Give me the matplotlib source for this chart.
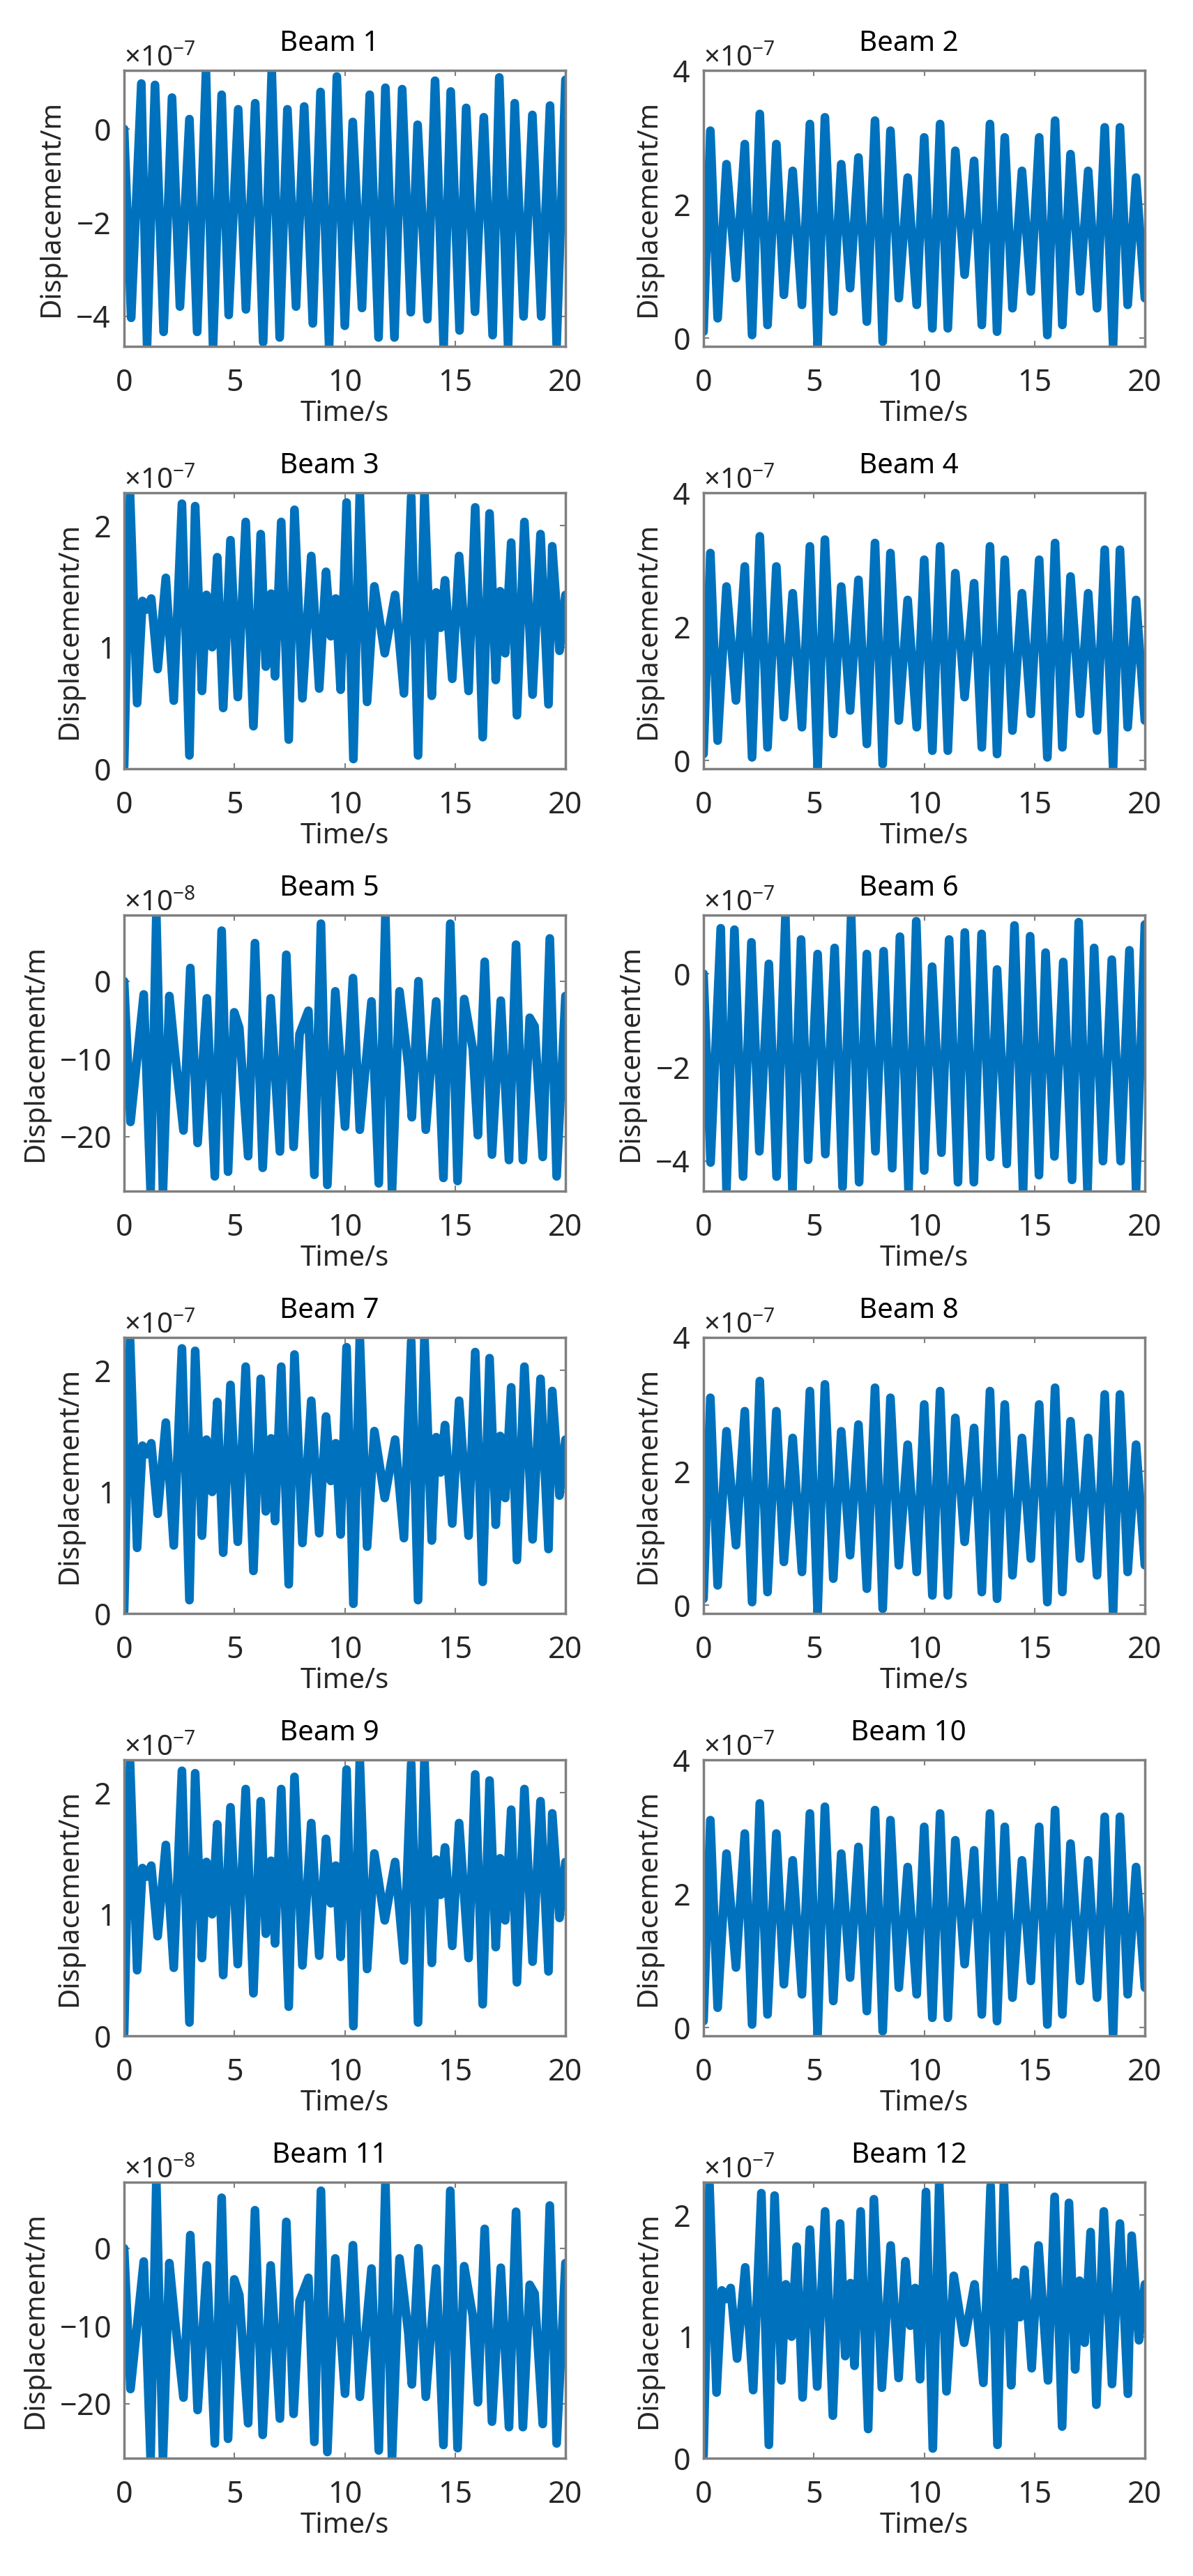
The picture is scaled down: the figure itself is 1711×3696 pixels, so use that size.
import matplotlib
matplotlib.use("Agg")
import matplotlib.pyplot as plt
from matplotlib.ticker import ScalarFormatter
import numpy as np

plt.rcParams["font.family"] = ["Noto Sans", "DejaVu Sans"]
plt.rcParams["axes.unicode_minus"] = False
plt.rcParams["mathtext.default"] = "regular"

# ---- data (peaks / troughs of each response) ----
# signal A : Beam 1, Beam 6   (x 1e-7 m)
a_time = [0.0, 0.32, 0.78, 1.04, 1.4, 1.79, 2.17, 2.53, 2.96, 3.31, 3.71, 4.03, 4.42, 4.74,
          5.17, 5.52, 5.94, 6.3, 6.69, 7.05, 7.4, 7.79, 8.16, 8.55, 8.9, 9.29, 9.64, 10.0,
          10.36, 10.78, 11.13, 11.53, 11.84, 12.25, 12.6, 12.99, 13.3, 13.74, 14.09, 14.48,
          14.8, 15.2, 15.5, 15.9, 16.3, 16.7, 17.0, 17.4, 17.7, 18.1, 18.5, 18.9, 19.3, 19.6, 20.0]
a_disp = [0.0, -4.03, 0.97, -4.6, 0.94, -4.33, 0.67, -3.79, 0.21, -4.33, 1.21, -4.64, 0.73, -3.97,
          0.42, -3.85, 0.55, -4.55, 1.24, -4.45, 0.42, -3.79, 0.48, -4.15, 0.79, -4.64, 1.12, -4.2,
          0.15, -3.82, 0.73, -4.45, 0.88, -4.45, 0.85, -3.91, 0.09, -4.06, 1.03, -4.64,
          0.8, -4.3, 0.45, -3.9, 0.25, -4.4, 1.1, -4.64, 0.55, -4.0, 0.3, -4.0, 0.5, -4.6, 1.05]

# signal B : Beam 2, 4, 8, 10   (x 1e-7 m)
b_time = [0.0, 0.31, 0.64, 1.04, 1.47, 1.87, 2.2, 2.55, 2.9, 3.3, 3.64, 4.04, 4.46, 4.82, 5.17,
          5.5, 5.88, 6.24, 6.64, 7.02, 7.4, 7.77, 8.12, 8.47, 8.85, 9.25, 9.66, 10.0, 10.37, 10.72,
          11.07, 11.41, 11.83, 12.26, 12.61, 12.98, 13.3, 13.65, 14.0, 14.43, 14.83, 15.21, 15.58,
          15.93, 16.26, 16.63, 17.06, 17.43, 17.83, 18.18, 18.56, 18.87, 19.22, 19.6, 20.0]
b_disp = [0.1, 3.1, 0.3, 2.6, 0.9, 2.9, 0.05, 3.35, 0.2, 2.9, 0.65, 2.5, 0.5, 3.2, -0.1,
          3.3, 0.4, 2.6, 0.75, 2.7, 0.25, 3.25, -0.05, 3.1, 0.6, 2.4, 0.5, 3.0, 0.15, 3.2,
          0.15, 2.8, 0.95, 2.65, 0.2, 3.2, 0.1, 3.0, 0.45, 2.5, 0.7, 3.0, 0.05,
          3.25, 0.2, 2.75, 0.7, 2.5, 0.45, 3.15, -0.1, 3.15, 0.5, 2.4, 0.6]

# signal C : Beam 3, 7, 9, 12   (x 1e-7 m)
c_time = [0.0, 0.27, 0.59, 0.83, 1.03, 1.23, 1.52, 1.89, 2.25, 2.62, 2.96, 3.22, 3.53, 3.73,
          3.99, 4.22, 4.49, 4.82, 5.15, 5.51, 5.86, 6.19, 6.42, 6.66, 6.84, 7.12, 7.46, 7.72,
          8.08, 8.48, 8.84, 9.15, 9.37, 9.59, 9.81, 10.08, 10.39, 10.68, 11.01, 11.34, 11.81,
          12.28, 12.68, 13.01, 13.32, 13.61, 13.94, 14.14, 14.34, 14.54, 14.87, 15.18, 15.61,
          15.91, 16.25, 16.56, 16.84, 17.04, 17.27, 17.54, 17.8, 18.14, 18.51, 18.87, 19.23,
          19.4, 19.73, 20.0]
c_disp = [0.02, 2.25, 0.54, 1.38, 1.31, 1.4, 0.82, 1.57, 0.56, 2.18, 0.11, 2.16, 0.64, 1.43,
          1.0, 1.74, 0.5, 1.88, 0.59, 2.03, 0.35, 1.93, 0.84, 1.44, 0.76, 2.03, 0.24, 2.13,
          0.58, 1.75, 0.66, 1.62, 1.09, 1.4, 0.65, 2.19, 0.08, 2.27, 0.55, 1.5, 0.95,
          1.43, 0.62, 2.24, 0.11, 2.27, 0.6, 1.45, 1.16, 1.55, 0.74, 1.75, 0.64,
          2.15, 0.26, 2.1, 0.73, 1.46, 0.95, 1.86, 0.44, 2.03, 0.61, 1.93, 0.53,
          1.83, 0.97, 1.43]

# signal D : Beam 5, 11   (x 1e-8 m)
d_time = [0.0, 0.29, 0.89, 1.2, 1.46, 1.76, 2.05, 2.29, 2.69, 3.0, 3.33, 3.75, 4.11, 4.42,
          4.71, 4.99, 5.22, 5.62, 5.93, 6.28, 6.64, 7.06, 7.35, 7.68, 7.95, 8.35, 8.62, 8.92,
          9.21, 9.57, 10.01, 10.37, 10.68, 11.21, 11.54, 11.84, 12.14, 12.48, 12.88, 13.04,
          13.34, 13.67, 14.14, 14.47, 14.78, 15.11, 15.41, 15.8, 16.03, 16.34, 16.67, 17.07,
          17.44, 17.76, 18.07, 18.38, 18.6, 18.97, 19.29, 19.6, 20.0]
d_disp = [0.0, -18.1, -1.7, -27.0, 8.5, -27.0, -1.9, -8.9, -19.2, 1.7, -20.8, -2.2, -25.1, 6.5,
          -24.5, -4.0, -6.0, -22.5, 4.9, -24.0, -2.2, -21.9, 3.4, -21.3, -6.8, -3.8, -24.9, 7.4,
          -26.2, -1.3, -18.7, 0.4, -19.1, -2.6, -26.0, 8.4, -27.0, -1.3, -10.9, -17.5,
          0.0, -19.1, -2.6, -25.3, 7.4, -25.7, -2.3, -8.7, -19.8, 2.5, -22.3, -2.5,
          -23.0, 4.7, -23.0, -4.7, -5.8, -22.6, 5.5, -25.1, -1.9]

beam_titles = [f"Beam {i}" for i in range(1, 13)]
beam_signal = ["A", "B", "C", "B", "D", "A", "C", "B", "C", "B", "D", "C"]

signals = {
    "A": (a_time, a_disp, -7, (-4.64, 1.25), [-4, -2, 0]),
    "B": (b_time, b_disp, -7, (-0.12, 4.0), [0, 2, 4]),
    "C": (c_time, c_disp, -7, (0.0, 2.27), [0, 1, 2]),
    "D": (d_time, d_disp, -8, (-27.0, 8.5), [-20, -10, 0]),
}
x_ticks = [0, 5, 10, 15, 20]

# ---- layout (pixels of the 1711 x 3696 canvas) ----
W, H = 1711, 3696
col_left = [178, 1009]
ax_w = 633
row_top0, row_pitch, ax_h = 101, 606, 396

LINE = "#0072BD"
TXT = "#262626"
BOX = "#7f7f7f"
FS = 29       # titles / axis labels
FS_TICK = 31  # tick labels

fig = plt.figure(figsize=(W / 100, H / 100), dpi=100)

for k, (title, key) in enumerate(zip(beam_titles, beam_signal)):
    r, c = divmod(k, 2)
    left = col_left[c]
    top = row_top0 + r * row_pitch
    ax = fig.add_axes([left / W, 1 - (top + ax_h) / H, ax_w / W, ax_h / H])

    t, v, ex, ylim, yt = signals[key]
    scale = 10.0 ** ex
    ax.plot(t, np.asarray(v) * scale, color=LINE, lw=9,
            solid_joinstyle="round", solid_capstyle="round")

    ax.set_xlim(0, 20)
    ax.set_ylim(ylim[0] * scale, ylim[1] * scale)
    ax.set_xticks(x_ticks)
    ax.set_yticks([y * scale for y in yt])

    fmt = ScalarFormatter(useMathText=True)
    fmt.set_powerlimits((ex, ex))
    ax.yaxis.set_major_formatter(fmt)
    ax.yaxis.OFFSETTEXTPAD = 4
    ax.yaxis.get_offset_text().set_fontsize(FS)
    ax.yaxis.get_offset_text().set_color("#555555")

    ax.tick_params(axis="both", which="major", direction="in", top=True, right=True,
                   length=6, width=1.5, color=BOX, labelcolor=TXT, labelsize=FS_TICK)
    ax.tick_params(axis="x", pad=22)
    ax.tick_params(axis="y", pad=14)
    for sp in ax.spines.values():
        sp.set_color(BOX)
        sp.set_linewidth(2.5)

    ax.set_title(title, fontsize=FS, color="black", pad=20, x=0.465, y=1.0)
    ax.set_xlabel("Time/s", fontsize=FS, color=TXT, labelpad=2)
    ax.set_ylabel("Displacement/m", fontsize=FS, color=TXT, labelpad=10)

fig.savefig("out.png", dpi=100, facecolor="white")
